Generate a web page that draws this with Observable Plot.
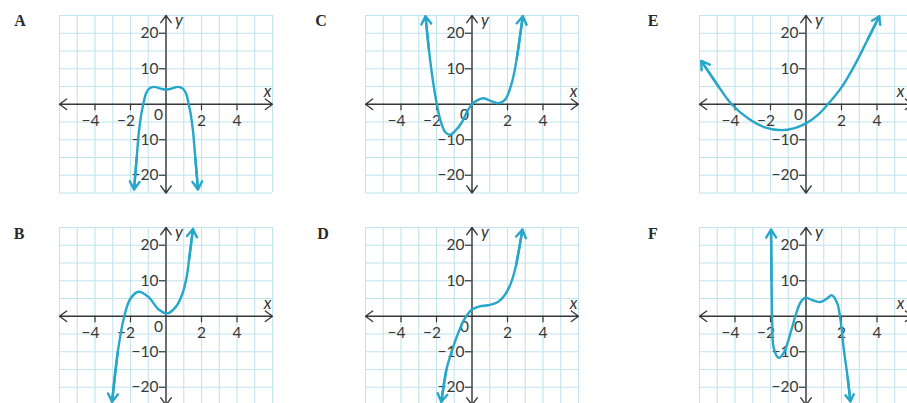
<!DOCTYPE html>
<html><head><meta charset="utf-8">
<script src="https://cdn.jsdelivr.net/npm/d3@7"></script>
<script src="https://cdn.jsdelivr.net/npm/@observablehq/plot@0.6"></script>
<style>
html,body{margin:0;padding:0;background:#fff;overflow:hidden;width:907px;height:403px;}
#wrap{position:relative;width:907px;height:403px;overflow:hidden;background:#fff;}
.panel{position:absolute;}
.panel svg{max-width:none !important;}
.letter{position:absolute;font-family:"Liberation Serif",serif;font-weight:bold;font-size:16px;color:#2a2a2a;line-height:1;transform:translate(-50%,-50%);}
</style></head><body><div id="wrap"></div>
<script>
// ---- data ----
const panelNames = ["A", "B", "C", "D", "E", "F"];
const xDomain = [-6, 6];
const yDomain = [-25, 25];
const xGrid = [-6, -5, -4, -3, -2, -1, 0, 1, 2, 3, 4, 5, 6];
const yGrid = [-25, -20, -15, -10, -5, 0, 5, 10, 15, 20, 25];
const xTicks = [-4, -2, 2, 4];
const yTicks = [20, 10, -10, -20];

const aX = [-1.8, -1.65, -1.52, -1.4, -1.28, -1.14, -0.95, -0.67, -0.3, 0, 0.3, 0.67, 0.95, 1.14, 1.28, 1.4, 1.52, 1.65, 1.8];
const aY = [-24, -15, -7.5, -3, 0, 2.9, 4.4, 4.9, 4.4, 4.1, 4.4, 4.9, 4.4, 2.9, 0, -3, -7.5, -15, -24];

const bX = [-3.04, -2.72, -2.35, -2.0, -1.54, -0.98, -0.41, 0.06, 0.53, 0.9, 1.18, 1.3, 1.52];
const bY = [-24.1, -10.2, 0, 5, 6.9, 5.4, 1.9, 0.8, 2.5, 6, 11.5, 16, 24.6];

const cX = [-2.62, -2.43, -2.2, -2.0, -1.78, -1.5, -1.25, -0.93, -0.56, -0.28, 0, 0.37, 0.65, 1.12, 1.5, 1.87, 2.24, 2.52, 2.86];
const cY = [24.8, 15.5, 6.5, 0.5, -4.5, -7.9, -8.6, -7.4, -5, -2.1, 0, 1.3, 1.7, 0.8, 0.3, 1.3, 6, 12.8, 24.8];

const dX = [-1.73, -1.45, -1.16, -0.79, -0.41, 0, 0.43, 0.9, 1.46, 1.84, 2.22, 2.5, 2.84];
const dY = [-24.1, -15.2, -10.2, -4.9, -0.7, 1.9, 2.8, 3.1, 4.0, 5.9, 9.7, 14.8, 24.4];

const eX = [-5.9, -4.93, -4.19, -3.25, -2.32, -1.38, -0.64, 0, 0.67, 1.23, 1.98, 2.73, 3.48, 4.13];
const eY = [12.2, 5.0, 0, -4.0, -6.5, -7.3, -6.7, -5.4, -3.0, 0, 4.6, 10.9, 18.3, 24.8];

const fX = [-1.97, -1.94, -1.9, -1.82, -1.54, -1.26, -0.79, -0.6, -0.32, -0.04, 0.43, 0.81, 1.18, 1.46, 1.75, 1.93, 2.12, 2.35, 2.5];
const fY = [24.4, 10, -2, -8.9, -11.7, -10.3, -3.3, 0, 3.8, 5.2, 4.4, 4.0, 5.0, 5.9, 3.8, -0.5, -8.9, -17.4, -24];

const seriesX = {A: aX, B: bX, C: cX, D: dX, E: eX, F: fX};
const seriesY = {A: aY, B: bY, C: cY, D: dY, E: eY, F: fY};

// ---- layout ----
const originX = {A: 165, B: 165, C: 471.5, D: 471.5, E: 805.5, F: 805.5};
const originY = {A: 104, B: 315.5, C: 104, D: 315.5, E: 104, F: 315.5};
const letterPos = {A: [20, 21], B: [19, 234], C: [321, 21], D: [323, 234], E: [653, 21], F: [653, 234]};
const xLabelDx = {A: -5, B: -5, C: -5, D: -5, E: -12, F: -12};
const M = {l: 40, r: 40, t: 20, b: 20};
const plotW = 213, plotH = 177.5;

const curveColor = "#26a7c9";
const gridColor = "#c2e4ee";
const axisColor = "#383838";
const fmt = d => d < 0 ? "\u2212" + Math.abs(d) : String(d);

const wrap = document.getElementById("wrap");

for (const name of panelNames) {
  const xs = seriesX[name], ys = seriesY[name];
  const pts = xs.map((x, i) => ({x, y: ys[i]}));
  const n = pts.length;
  const tips = [
    {x1: pts[1].x, y1: pts[1].y, x2: pts[0].x, y2: pts[0].y},
    {x1: pts[n - 2].x, y1: pts[n - 2].y, x2: pts[n - 1].x, y2: pts[n - 1].y}
  ];
  const axes = [
    {x1: 0, y1: 0, x2: xDomain[0], y2: 0},
    {x1: 0, y1: 0, x2: xDomain[1], y2: 0},
    {x1: 0, y1: 0, x2: 0, y2: yDomain[0]},
    {x1: 0, y1: 0, x2: 0, y2: yDomain[1]}
  ];
  const chart = Plot.plot({
    width: plotW + M.l + M.r,
    height: plotH + M.t + M.b,
    marginLeft: M.l, marginRight: M.r, marginTop: M.t, marginBottom: M.b,
    x: {domain: xDomain, axis: null},
    y: {domain: yDomain, axis: null},
    style: {background: "transparent", overflow: "visible", fontFamily: "Lato, 'Open Sans', sans-serif", fontSize: "15.5px", color: axisColor},
    marks: [
      Plot.ruleX(xGrid, {x: d => d, y1: yDomain[0], y2: yDomain[1], stroke: gridColor, strokeWidth: 1.1}),
      Plot.ruleY(yGrid, {y: d => d, x1: xDomain[0], x2: xDomain[1], stroke: gridColor, strokeWidth: 1.1}),
      Plot.arrow(axes, {x1: "x1", y1: "y1", x2: "x2", y2: "y2", stroke: axisColor, strokeWidth: 1.4, headLength: 9.5, headAngle: 72}),
      Plot.ruleX(xTicks, {x: d => d, y1: 0, y2: 0, insetBottom: -6.5, stroke: axisColor, strokeWidth: 1.2}),
      Plot.ruleY(yTicks, {y: d => d, x1: 0, x2: 0, insetLeft: -6.5, stroke: axisColor, strokeWidth: 1.2}),
      Plot.text(xTicks, {x: d => d, y: 0, text: fmt, dy: 17, dx: 4.5, textAnchor: "end", fill: axisColor}),
      Plot.text(yTicks, {x: 0, y: d => d, text: fmt, dx: -7.5, textAnchor: "end", fill: axisColor}),
      Plot.text([0], {x: 0, y: 0, text: fmt, dx: -3, dy: 10.5, textAnchor: "end", fill: axisColor}),
      Plot.text(["x"], {x: xDomain[1], y: 0, text: d => d, dx: xLabelDx[name], dy: -13, fontStyle: "italic", fontSize: 16.5, fill: axisColor}),
      Plot.text(["y"], {x: 0, y: yDomain[1], text: d => d, dx: 13, dy: 5, fontStyle: "italic", fontSize: 16.5, fill: axisColor}),
      Plot.line(pts, {x: "x", y: "y", curve: "catmull-rom", stroke: curveColor, strokeWidth: 2.4}),
      Plot.arrow(tips, {x1: "x1", y1: "y1", x2: "x2", y2: "y2", stroke: curveColor, strokeWidth: 2.4, headLength: 5.8, headAngle: 64})
    ]
  });
  const div = document.createElement("div");
  div.className = "panel";
  div.style.left = (originX[name] - M.l - plotW / 2) + "px";
  div.style.top = (originY[name] - M.t - plotH / 2) + "px";
  div.appendChild(chart);
  wrap.appendChild(div);

  const lab = document.createElement("div");
  lab.className = "letter";
  lab.textContent = name;
  lab.style.left = letterPos[name][0] + "px";
  lab.style.top = letterPos[name][1] + "px";
  wrap.appendChild(lab);
}
</script>
</body></html>
